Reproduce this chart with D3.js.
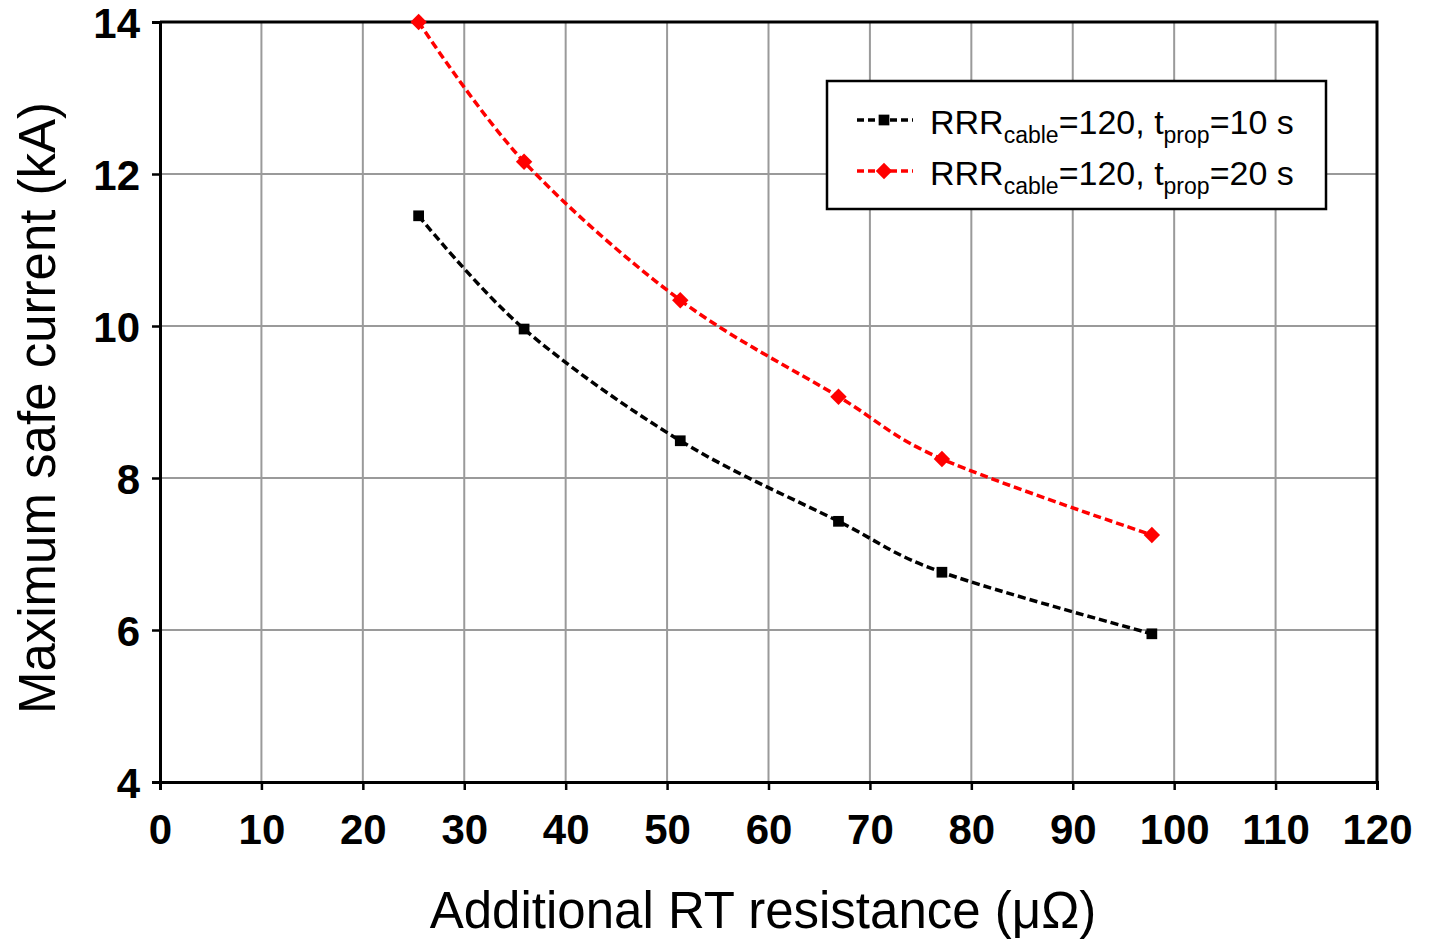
<!DOCTYPE html>
<html>
<head>
<meta charset="utf-8">
<script src="https://cdn.jsdelivr.net/npm/d3@7"></script>
<style>
  body { margin: 0; background: #fff; }
  text { font-family: "Liberation Sans", Arial, sans-serif; }
</style>
</head>
<body>
<svg id="chart" width="1429" height="939"></svg>
<script>
// data
var resistance = [25.5, 35.9, 51.3, 66.9, 77.1, 97.8];
var current10s = [11.45, 9.96, 8.49, 7.43, 6.76, 5.95];
var current20s = [14.0, 12.16, 10.34, 9.07, 8.25, 7.25];
var xTicks = [0, 10, 20, 30, 40, 50, 60, 70, 80, 90, 100, 110, 120];
var yTicks = [4, 6, 8, 10, 12, 14];

var svg = d3.select("#chart");
var margin = { left: 160, top: 22, right: 1377, bottom: 782 };

var x = d3.scaleLinear().domain([0, 120]).range([margin.left, margin.right]);
var y = d3.scaleLinear().domain([4, 14]).range([margin.bottom, margin.top]);

// grid
svg.append("g").selectAll("line")
    .data(xTicks.slice(1))
    .enter().append("line")
    .attr("x1", d => x(d)).attr("x2", d => x(d))
    .attr("y1", y(4)).attr("y2", y(14))
    .style("stroke", "#9a9a9a").style("stroke-width", 2);

svg.append("g").selectAll("line")
    .data(yTicks.slice(1))
    .enter().append("line")
    .attr("x1", x(0)).attr("x2", x(120))
    .attr("y1", d => y(d)).attr("y2", d => y(d))
    .style("stroke", "#9a9a9a").style("stroke-width", 2);

// top and right frame
svg.append("path")
    .attr("d", "M" + x(0) + "," + y(14) + "H" + x(120) + "V" + y(4))
    .style("fill", "none").style("stroke", "#000").style("stroke-width", 3);

// axes
var xAxis = svg.append("g")
    .attr("transform", "translate(0," + y(4) + ")")
    .call(d3.axisBottom(x).tickValues(xTicks).tickSize(8).tickPadding(24));
var yAxis = svg.append("g")
    .attr("transform", "translate(" + x(0) + ",0)")
    .call(d3.axisLeft(y).tickValues(yTicks).tickSize(8).tickPadding(12));

[xAxis, yAxis].forEach(function (a) {
    a.select(".domain").style("stroke", "#000").style("stroke-width", 3);
    a.selectAll(".tick line").style("stroke", "#000").style("stroke-width", 2.5);
    a.selectAll(".tick text")
        .style("font-family", "'Liberation Sans', Arial, sans-serif")
        .style("font-weight", "bold")
        .style("font-size", "42px")
        .style("fill", "#000");
});
yAxis.selectAll(".tick text").attr("dy", "0.36em");

// series
var diamond = d3.symbol().type(d3.symbolSquare).size(135);
var square = d3.symbol().type(d3.symbolSquare).size(115);
var series = [
    { name: "10", values: current10s, color: "#000", marker: square, rot: 0 },
    { name: "20", values: current20s, color: "#ff0000", marker: diamond, rot: 45 }
];

var line = d3.line()
    .x(function (d) { return x(d[0]); })
    .y(function (d) { return y(d[1]); })
    .curve(d3.curveCatmullRom.alpha(0));

series.forEach(function (s) {
    var pts = resistance.map(function (r, i) { return [r, s.values[i]]; });
    svg.append("path")
        .datum(pts)
        .attr("d", line)
        .style("fill", "none")
        .style("stroke", s.color)
        .style("stroke-width", 3.5)
        .style("stroke-dasharray", "8,4");
    svg.append("g").selectAll("path")
        .data(pts)
        .enter().append("path")
        .attr("transform", function (d) { return "translate(" + x(d[0]) + "," + y(d[1]) + ") rotate(" + s.rot + ")"; })
        .attr("d", s.marker)
        .style("fill", s.color);
});

// legend
var legend = svg.append("g").attr("transform", "translate(827,81)");
legend.append("rect")
    .attr("width", 499).attr("height", 128)
    .style("fill", "#fff").style("stroke", "#000").style("stroke-width", 2.5);

series.forEach(function (s, i) {
    var ly = 39 + i * 51;
    legend.append("line")
        .attr("x1", 30).attr("x2", 86).attr("y1", ly).attr("y2", ly)
        .style("stroke", s.color).style("stroke-width", 3.5).style("stroke-dasharray", "7,4");
    legend.append("path")
        .attr("transform", "translate(57," + ly + ") rotate(" + s.rot + ")")
        .attr("d", s.marker)
        .style("fill", s.color);
    var t = legend.append("text")
        .attr("x", 103).attr("y", ly + 14)
        .style("font-size", "34px").style("fill", "#000");
    t.append("tspan").text("RRR");
    t.append("tspan").attr("dy", 9).style("font-size", "23px").text("cable");
    t.append("tspan").attr("dy", -9).text("=120, t");
    t.append("tspan").attr("dy", 9).style("font-size", "23px").text("prop");
    t.append("tspan").attr("dy", -9).text("=" + s.name + " s");
});

// axis titles
svg.append("text")
    .attr("x", 763).attr("y", 928)
    .attr("text-anchor", "middle")
    .style("font-size", "51px").style("fill", "#000")
    .text("Additional RT resistance (\u03bc\u03a9)");

svg.append("text")
    .attr("transform", "translate(55,408) rotate(-90)")
    .attr("text-anchor", "middle")
    .style("font-size", "51px").style("fill", "#000")
    .text("Maximum safe current (kA)");
</script>
</body>
</html>
